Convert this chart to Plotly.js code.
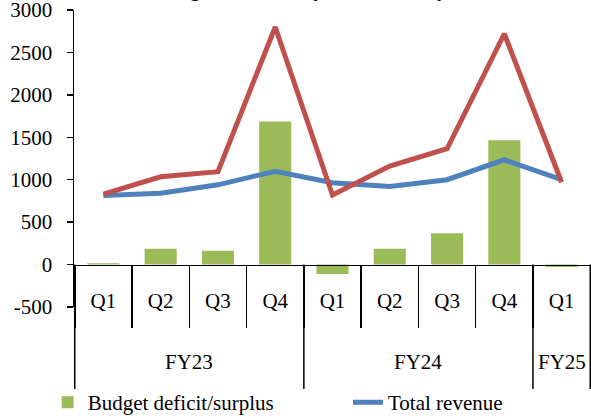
<!DOCTYPE html>
<html>
<head>
<meta charset="utf-8">
<script src="https://cdn.plot.ly/plotly-3.0.1.min.js"></script>
<style>
html,body{margin:0;padding:0;overflow:hidden;background:#fff;}
#chart{width:591px;height:420px;}
</style>
</head>
<body>
<div id="chart"></div>
<script>
// ---- data (MVR million) ----
var fiscalYears = ['FY23','FY23','FY23','FY23','FY24','FY24','FY24','FY24','FY25'];
var quarters    = ['Q1','Q2','Q3','Q4','Q1','Q2','Q3','Q4','Q1'];
var budgetBalance    = [15, 185, 162, 1685, -110, 185, 370, 1465, -30];
var totalRevenue     = [815, 840, 940, 1100, 965, 920, 1000, 1235, 1000];
var totalExpenditure = [830, 1035, 1095, 2800, 820, 1160, 1365, 2720, 970];
var seriesNames = ['Budget deficit/surplus', 'Total revenue', 'Total expenditure'];
var yTicks = [-500, 0, 500, 1000, 1500, 2000, 2500, 3000];
var chartTitle = 'Budget balance (MVR million)';

var yMin = -500, yMax = 3000;
var serif = 'Liberation Serif, Times New Roman, serif';

// unique category keys, displayed as the quarter names
var xKeys = quarters.map(function(q, i){ return q + ' ' + fiscalYears[i]; });

// fiscal-year groups (derived from the arrays): start/end index
var groups = [];
fiscalYears.forEach(function(fy, i){
  var g = groups.length ? groups[groups.length-1] : null;
  if (!g || g.name !== fy) groups.push({name:fy, start:i, end:i});
  else g.end = i;
});

var axisPos = (0 - yMin)/(yMax - yMin);   // x axis crosses at y = 0
var plotW = 591 - 74;
var plotH = 420 - 10 - 113;
var dividerBottom = -82/plotH;             // long divider end (paper)
var fyLabelY = -55/plotH;                  // fiscal-year label centre (paper)

var shapes = [];
var annotations = [];
groups.forEach(function(g, k){
  if (k === 0) shapes.push({type:'line', xref:'x', yref:'paper', x0:g.start-0.5, x1:g.start-0.5,
                            y0:axisPos, y1:dividerBottom, line:{color:'#000', width:1.5}});
  shapes.push({type:'line', xref:'x', yref:'paper', x0:g.end+0.5, x1:g.end+0.5,
               y0:axisPos, y1:dividerBottom, line:{color:'#000', width:1.5}});
  annotations.push({xref:'x', yref:'paper', x:(g.start+g.end)/2, y:fyLabelY,
                    text:g.name, showarrow:false, xanchor:'center', yanchor:'middle',
                    font:{family:serif, size:21, color:'#000'}});
});
annotations.push({xref:'paper', yref:'paper', x:(295.5-74)/plotW, y:1 + 8.5/plotH,
                  xanchor:'center', yanchor:'bottom', showarrow:false, borderpad:0,
                  text:'<b>'+chartTitle+'</b>',
                  font:{family:'Liberation Sans, Arial, sans-serif', size:21, color:'#000'}});

var traces = [
  {type:'bar', name:seriesNames[0], x:xKeys, y:budgetBalance, legend:'legend',
   marker:{color:'#9BBB59', line:{width:0}}, width:0.56},
  {type:'scatter', mode:'lines', name:seriesNames[1], x:xKeys, y:totalRevenue, legend:'legend2',
   line:{color:'#4F81BD', width:5}},
  {type:'scatter', mode:'lines', name:seriesNames[2], x:xKeys, y:totalExpenditure, legend:'legend2',
   line:{color:'#C0504D', width:5}}
];

var legendFont = {family:serif, size:21, color:'#000'};
var layout = {
  width:591, height:420,
  margin:{l:74, r:0, t:10, b:113, pad:0, autoexpand:false},
  paper_bgcolor:'#fff', plot_bgcolor:'rgba(0,0,0,0)',
  font:{family:serif, size:21, color:'#000'},
  showlegend:true,
  legend:{orientation:'v', x:-0.051, xanchor:'left', y:-0.253, yanchor:'top',
          font:legendFont, traceorder:'normal', bgcolor:'rgba(0,0,0,0)'},
  legend2:{orientation:'v', x:(348-74)/plotW, xanchor:'left', y:-0.253, yanchor:'top',
          font:legendFont, traceorder:'normal', bgcolor:'rgba(0,0,0,0)'},
  shapes:shapes,
  annotations:annotations,
  xaxis:{type:'category', anchor:'free', position:axisPos,
         tickmode:'array', tickvals:xKeys, ticktext:quarters,
         showline:true, linecolor:'#000', linewidth:1.5,
         ticks:'outside', tickson:'boundaries', ticklen:62, tickwidth:1.5, tickcolor:'#000',
         ticklabelstandoff:17,
         tickfont:{family:serif, size:21, color:'#000'},
         showgrid:false, zeroline:false, fixedrange:true, automargin:false},
  yaxis:{range:[yMin, yMax], tickmode:'array', tickvals:yTicks, ticktext:yTicks.map(String),
         showline:true, linecolor:'#000', linewidth:1.5,
         ticks:'outside', ticklen:6, tickwidth:1.5, tickcolor:'#000',
         ticklabelstandoff:10, ticklabeloverflow:'allow',
         showgrid:false, zeroline:false, automargin:false,
         tickfont:{family:serif, size:21, color:'#000'}, fixedrange:true}
};

Plotly.newPlot('chart', traces, layout, {displayModeBar:false, staticPlot:true});
</script>
</body>
</html>
